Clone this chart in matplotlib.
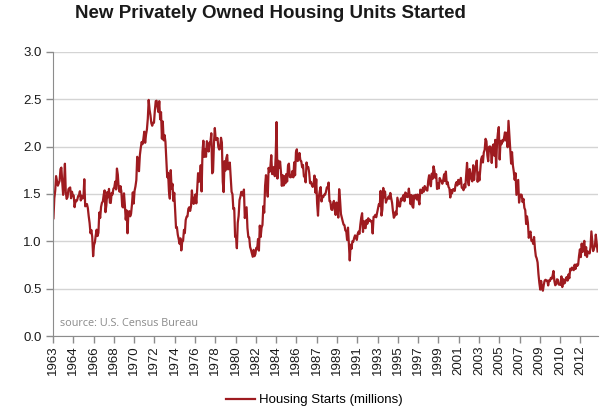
import numpy as np
import matplotlib
matplotlib.use("Agg")
import matplotlib.pyplot as plt

# monthly housing starts, thousands of units (SAAR), Jan 1963 - Jun 2014
start_year = 1963
starts = [
    1244, 1456, 1534, 1689, 1641, 1588, 1614, 1639, 1763, 1779, 1622, 1491,  # 1963
    1603, 1820, 1517, 1448, 1467, 1550, 1562, 1569, 1455, 1524, 1486, 1484,  # 1964
    1361, 1433, 1423, 1438, 1478, 1488, 1529, 1432, 1482, 1452, 1460, 1656,  # 1965
    1370, 1378, 1394, 1352, 1265, 1194, 1086, 1119, 1046, 843, 961, 990,      # 1966
    1067, 1123, 1056, 1091, 1304, 1248, 1364, 1407, 1421, 1491, 1538, 1308,  # 1967
    1380, 1520, 1466, 1554, 1408, 1405, 1512, 1495, 1556, 1569, 1630, 1548,  # 1968
    1769, 1705, 1561, 1524, 1583, 1528, 1368, 1358, 1507, 1381, 1229, 1327,  # 1969
    1085, 1305, 1319, 1264, 1290, 1385, 1517, 1399, 1534, 1580, 1647, 1893,  # 1970
    1828, 1741, 1910, 1986, 2049, 2026, 2083, 2158, 2041, 2128, 2182, 2295,  # 1971
    2494, 2390, 2334, 2249, 2221, 2254, 2252, 2382, 2481, 2485, 2421, 2366,  # 1972
    2481, 2289, 2365, 2084, 2266, 2067, 2123, 2051, 1874, 1677, 1724, 1526,  # 1973
    1451, 1752, 1555, 1607, 1426, 1513, 1316, 1142, 1150, 1070, 1026, 975,   # 1974
    1032, 904, 993, 1005, 1121, 1087, 1226, 1260, 1264, 1344, 1360, 1321,    # 1975
    1367, 1538, 1421, 1395, 1459, 1495, 1401, 1550, 1720, 1629, 1641, 1804,  # 1976
    1527, 1943, 2063, 1892, 1971, 1893, 2058, 2020, 1949, 2042, 2042, 2142,  # 1977
    1718, 1738, 2032, 2197, 2075, 2070, 2092, 1996, 1970, 1981, 2094, 2044,  # 1978
    1630, 1520, 1847, 1748, 1876, 1913, 1760, 1778, 1832, 1681, 1524, 1498,  # 1979
    1341, 1350, 1047, 1051, 927, 1196, 1269, 1436, 1471, 1523, 1510, 1482,   # 1980
    1547, 1246, 1306, 1360, 1140, 1045, 1041, 940, 911, 873, 837, 910,       # 1981
    843, 866, 931, 917, 1025, 902, 1166, 1046, 1144, 1173, 1372, 1303,       # 1982
    1586, 1699, 1606, 1472, 1776, 1733, 1785, 1910, 1710, 1715, 1785, 1688,  # 1983
    1897, 2260, 1663, 1851, 1774, 1843, 1732, 1586, 1698, 1590, 1689, 1612,  # 1984
    1711, 1632, 1800, 1821, 1680, 1676, 1684, 1743, 1676, 1834, 1698, 1942,  # 1985
    1972, 1848, 1876, 1933, 1854, 1847, 1782, 1807, 1687, 1681, 1623, 1833,  # 1986
    1774, 1784, 1726, 1614, 1628, 1594, 1575, 1605, 1695, 1515, 1656, 1400,  # 1987
    1271, 1473, 1532, 1573, 1421, 1478, 1467, 1493, 1492, 1522, 1569, 1563,  # 1988
    1621, 1425, 1422, 1339, 1331, 1397, 1427, 1332, 1279, 1410, 1351, 1251,  # 1989
    1551, 1437, 1289, 1248, 1212, 1177, 1171, 1115, 1110, 1014, 1145, 969,   # 1990
    798, 965, 921, 1001, 996, 1036, 1063, 1049, 1015, 1079, 1103, 1079,      # 1991
    1176, 1250, 1297, 1099, 1214, 1145, 1139, 1226, 1186, 1244, 1214, 1227,  # 1992
    1210, 1210, 1083, 1258, 1260, 1280, 1254, 1300, 1343, 1392, 1376, 1533,  # 1993
    1272, 1337, 1564, 1465, 1526, 1409, 1439, 1450, 1474, 1450, 1511, 1455,  # 1994
    1407, 1316, 1249, 1267, 1314, 1281, 1461, 1416, 1369, 1369, 1452, 1431,  # 1995
    1467, 1491, 1424, 1516, 1504, 1467, 1472, 1557, 1475, 1392, 1489, 1370,  # 1996
    1355, 1486, 1457, 1492, 1442, 1494, 1437, 1390, 1546, 1520, 1510, 1566,  # 1997
    1525, 1584, 1567, 1540, 1536, 1641, 1698, 1614, 1582, 1715, 1660, 1792,  # 1998
    1748, 1670, 1710, 1553, 1611, 1559, 1669, 1648, 1635, 1608, 1648, 1708,  # 1999
    1636, 1737, 1604, 1626, 1575, 1559, 1463, 1541, 1507, 1549, 1551, 1532,  # 2000
    1600, 1625, 1590, 1649, 1605, 1636, 1670, 1567, 1562, 1540, 1602, 1568,  # 2001
    1698, 1829, 1642, 1592, 1764, 1717, 1655, 1633, 1804, 1648, 1753, 1788,  # 2002
    1853, 1629, 1726, 1643, 1751, 1867, 1897, 1833, 1939, 1967, 2083, 2057,  # 2003
    1911, 1846, 1998, 2003, 1981, 1828, 2002, 2024, 1905, 2072, 1782, 2042,  # 2004
    2144, 2207, 1864, 2061, 2025, 2068, 2054, 2095, 2151, 2065, 2147, 1994,  # 2005
    2273, 2119, 1969, 1821, 1942, 1802, 1737, 1650, 1720, 1491, 1570, 1649,  # 2006
    1409, 1480, 1495, 1490, 1415, 1448, 1354, 1330, 1183, 1264, 1197, 1037,  # 2007
    1084, 1103, 1005, 1013, 973, 1046, 923, 844, 820, 777, 652, 560,         # 2008
    490, 582, 505, 478, 540, 585, 594, 586, 585, 534, 588, 581,              # 2009
    614, 604, 636, 687, 583, 536, 546, 599, 594, 543, 545, 539,              # 2010
    630, 517, 600, 554, 561, 608, 623, 585, 650, 610, 711, 694,              # 2011
    723, 704, 695, 753, 708, 757, 740, 754, 847, 915, 833, 976,              # 2012
    888, 962, 1005, 853, 939, 835, 892, 883, 872, 936, 1105, 1003,           # 2013
    897, 927, 950, 1071, 985, 893,                                           # 2014
]
tick_step = 23  # months between category labels

values = np.array(starts) / 1000.0
n = len(values)
x = np.arange(n) + 0.5

line_color = "#9E1B20"
grid_color = "#D4D4D4"
axis_color = "#8C8C8C"
text_color = "#1A1A1A"

plt.rcParams["font.family"] = ["Liberation Sans", "DejaVu Sans"]

fig = plt.figure(figsize=(6.05, 4.11), dpi=100)
ax = fig.add_axes([53 / 605, 1 - 336 / 411, 545 / 605, 284 / 411])

ax.plot(x, values, color=line_color, lw=1.6, label="Housing Starts (millions)")

ax.set_xlim(0, n)
ax.set_ylim(0, 3.0)
ax.set_yticks(np.arange(0, 3.01, 0.5))
ax.set_yticklabels([f"{v:.1f}" for v in np.arange(0, 3.01, 0.5)])

tick_pos = np.arange(0, n, tick_step)
tick_lab = [str(start_year + i // 12) for i in tick_pos]
ax.set_xticks(tick_pos)
ax.set_xticklabels(tick_lab, rotation=90)

ax.grid(axis="y", color=grid_color, lw=1)
ax.set_axisbelow(True)
for s in ["top", "right"]:
    ax.spines[s].set_visible(False)
for s in ["left", "bottom"]:
    ax.spines[s].set_color(axis_color)
ax.tick_params(axis="both", colors=axis_color, labelcolor=text_color,
               labelsize=9.5, length=5, width=1)
ax.tick_params(axis="y", pad=3)
ax.tick_params(axis="x", pad=2)

ax.text(0.012, 0.035, "source: U.S. Census Bureau", transform=ax.transAxes,
        fontsize=7.8, color="#8A8A8A", family=["Open Sans", "DejaVu Sans"])

fig.text(270 / 605, 1 - 14 / 411, "New Privately Owned Housing Units Started",
         ha="center", va="center", fontsize=13.5, fontweight="bold", color=text_color)

fig.legend(loc="center", bbox_to_anchor=(314 / 605, 1 - 400 / 411), frameon=False,
           fontsize=9.5, handlelength=2.2, handletextpad=0.3)

fig.savefig("out.png", dpi=100)
